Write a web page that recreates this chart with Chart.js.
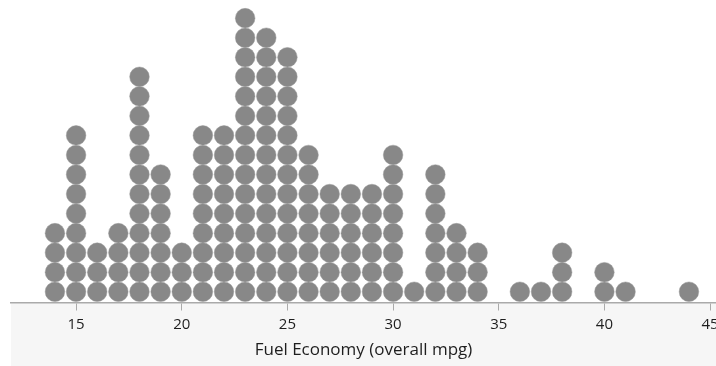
<!DOCTYPE html>
<html>
<head>
<meta charset="utf-8">
<script src="https://cdn.jsdelivr.net/npm/chart.js@4/dist/chart.umd.min.js"></script>
<style>
  html, body { margin: 0; padding: 0; background: #fff; }
  #wrap { width: 716px; height: 366px; }
</style>
</head>
<body>
<div id="wrap"><canvas id="dots"></canvas></div>
<script>
// mpg values and how many cars sit on each one
const mpgValues = [14, 15, 16, 17, 18, 19, 20, 21, 22, 23, 24, 25, 26, 27, 28, 29, 30, 31, 32, 33, 34, 36, 37, 38, 40, 41, 44];
const carCounts = [4, 9, 3, 4, 12, 7, 3, 9, 9, 15, 14, 13, 8, 6, 6, 6, 8, 1, 7, 4, 3, 1, 1, 3, 2, 1, 1];
const tickValues = [15, 20, 25, 30, 35, 40, 45];
const axisTitle = "Fuel Economy (overall mpg)";

// stack one dot per car
const points = [];
mpgValues.forEach((v, i) => {
    for (let k = 1; k <= carCounts[i]; k++) {
        points.push({ x: v, y: k - 0.45 });
    }
});

const bottomPanel = {
    id: "bottomPanel",
    beforeDraw(chart) {
        const ctx = chart.ctx;
        const a = chart.chartArea;
        ctx.save();
        ctx.fillStyle = "#f6f6f6";
        ctx.fillRect(a.left, a.bottom, chart.width - a.left, chart.height - a.bottom);
        ctx.restore();
    }
};

new Chart(document.getElementById("dots"), {
    type: "scatter",
    data: {
        datasets: [{
            data: points,
            backgroundColor: "#888888",
            borderColor: "#999999",
            borderWidth: 0.5,
            pointRadius: 9.8,
            pointHoverRadius: 9.8
        }]
    },
    options: {
        responsive: true,
        maintainAspectRatio: false,
        animation: false,
        layout: { autoPadding: false, padding: { left: 11, right: 0, top: 0, bottom: 0 } },
        plugins: {
            legend: { display: false },
            tooltip: { enabled: false }
        },
        scales: {
            x: {
                type: "linear",
                min: 11.92,
                max: 45.28,
                afterBuildTicks: (scale) => {
                    scale.ticks = tickValues.map(v => ({ value: v }));
                },
                afterFit: (scale) => {
                    scale.height = 63.5;
                    scale.paddingLeft = 0;
                    scale.paddingRight = 0;
                },
                grid: {
                    drawOnChartArea: false,
                    drawTicks: true,
                    tickLength: 8,
                    color: "#aaaaaa"
                },
                border: { color: "#aaaaaa", width: 1.5 },
                ticks: {
                    color: "#1e1e1e",
                    padding: 5,
                    maxRotation: 0,
                    autoSkip: false,
                    font: { family: "'Open Sans', 'Noto Sans', sans-serif", size: 15 }
                },
                title: {
                    display: true,
                    text: axisTitle,
                    color: "#1e1e1e",
                    padding: { top: 0, bottom: 6 },
                    font: { family: "'Open Sans', 'Noto Sans', sans-serif", size: 17 }
                }
            },
            y: {
                display: false,
                min: 0,
                max: 15.48
            }
        }
    },
    plugins: [bottomPanel]
});
</script>
</body>
</html>
